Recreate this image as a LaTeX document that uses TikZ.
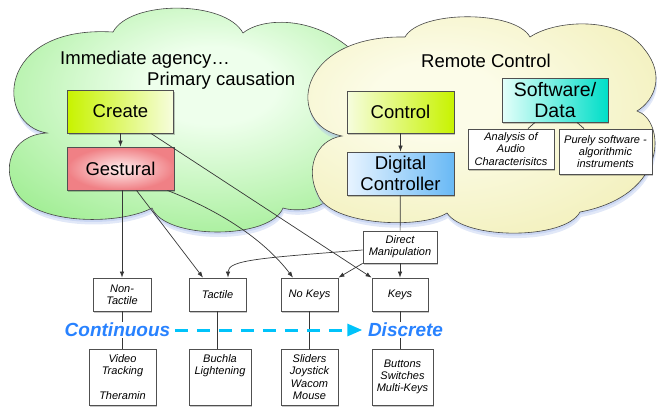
\documentclass[tikz,border=0pt]{standalone}
\usepackage{fontspec}
\setmainfont{Liberation Sans}
\usetikzlibrary{arrows.meta,shadows,calc}
\definecolor{GreenIn}{RGB}{238,255,236}
\definecolor{GreenOut}{RGB}{110,226,90}
\definecolor{YellowIn}{RGB}{252,252,232}
\definecolor{YellowOut}{RGB}{236,232,158}
\definecolor{CloudLine}{RGB}{70,70,70}
\definecolor{ShadowBlue}{RGB}{170,190,235}
\definecolor{LimeStrong}{RGB}{200,243,0}
\definecolor{LimePale}{RGB}{246,253,222}
\definecolor{GestIn}{RGB}{255,240,240}
\definecolor{GestOut}{RGB}{240,128,133}
\definecolor{BluePale}{RGB}{232,244,255}
\definecolor{BlueStrong}{RGB}{105,185,245}
\definecolor{CyanPale}{RGB}{228,255,250}
\definecolor{CyanStrong}{RGB}{0,222,200}
\definecolor{ConnLine}{RGB}{55,55,55}
\definecolor{BoxLine}{RGB}{80,80,80}
\definecolor{ContBlue}{RGB}{40,130,255}
\definecolor{DashCyan}{RGB}{0,195,250}
\pgfdeclareradialshading{greenshade}{\pgfpoint{2bp}{8bp}}{color(0bp)=(GreenIn); color(8bp)=(GreenIn); color(48bp)=(GreenOut); color(80bp)=(GreenOut)}
\pgfdeclareradialshading{yellowshade}{\pgfpoint{-6bp}{6bp}}{color(0bp)=(YellowIn); color(8bp)=(YellowIn); color(48bp)=(YellowOut); color(80bp)=(YellowOut)}
\def\greencloud{(47,133) .. controls (-5,125) and (-5,25) .. (113,32) .. controls (130,0) and (225,0) .. (243,33) .. controls (265,15) and (330,15) .. (370,70) .. controls (400,120) and (380,185) .. (330,195) .. controls (325,210) and (295,212) .. (283,208) .. controls (270,240) and (165,240) .. (152,208) .. controls (120,225) and (40,225) .. (18,195) .. controls (0,170) and (10,135) .. (47,133) -- cycle}
\def\yellowcloud{(342,136) .. controls (285,125) and (295,35) .. (405,37) .. controls (420,10) and (515,10) .. (530,37) .. controls (555,20) and (620,15) .. (645,50) .. controls (665,75) and (655,100) .. (637,111) .. controls (665,120) and (670,195) .. (580,212) .. controls (565,240) and (465,240) .. (447,213) .. controls (420,230) and (330,225) .. (318,195) .. controls (305,170) and (315,140) .. (342,136) -- cycle}
\tikzset{
  boxshadow/.style={drop shadow={shadow xshift=1pt, shadow yshift=-1.5pt, opacity=0.22, fill=black}},
  bigbox/.style={draw=BoxLine, line width=0.8pt, boxshadow, inner sep=0pt, align=center,
    font=\fontsize{18.5}{21}\selectfont},
  smallbox/.style={draw=BoxLine, line width=0.8pt, fill=white, boxshadow, inner sep=0pt, align=center,
    font=\fontsize{11}{12.2}\selectfont\itshape},
  conn/.style={draw=ConnLine, line width=0.7pt},
  arr/.style={conn, -{Latex[length=6pt,width=4.5pt]}},
  scaletext/.style={font=\fontsize{19}{21}\selectfont\bfseries\itshape, text=ContBlue, fill=white, inner sep=1.5pt},
  plaintext/.style={font=\fontsize{18.5}{21}\selectfont, inner sep=0pt}
}
\begin{document}
\begin{tikzpicture}[x=1pt,y=-1pt]
\useasboundingbox (0,0) rectangle (659,407);
% clouds
\fill[ShadowBlue, opacity=0.35, shift={(1,5)}] \greencloud;
\fill[ShadowBlue, opacity=0.4, shift={(0.5,2.5)}] \greencloud;
\shadedraw[shading=greenshade, draw=CloudLine, line width=0.6pt] \greencloud;
\fill[ShadowBlue, opacity=0.35, shift={(1,5)}] \yellowcloud;
\fill[ShadowBlue, opacity=0.4, shift={(0.5,2.5)}] \yellowcloud;
\shadedraw[shading=yellowshade, draw=CloudLine, line width=0.6pt] \yellowcloud;
% cloud titles
\node[plaintext, anchor=base west] (t1) at (60,64) {Immediate agency…};
\node[plaintext, anchor=base west] (t2) at (147,85) {Primary causation};
\node[plaintext, anchor=base west] (t3) at (421,67) {Remote Control};
% big boxes
\node[bigbox, minimum width=106pt, minimum height=43pt, left color=LimeStrong, right color=LimePale] (create) at (120.5,111.5) {Create};
\node[bigbox, minimum width=107pt, minimum height=43pt, inner color=GestIn, outer color=GestOut] (gest) at (120.5,168.5) {Gestural};
\node[bigbox, minimum width=107pt, minimum height=42pt, left color=LimePale, right color=LimeStrong] (control) at (400.5,112) {Control};
\node[bigbox, minimum width=107pt, minimum height=43pt, left color=BluePale, right color=BlueStrong] (digital) at (400.5,173.5) {Digital\\Controller};
\node[bigbox, minimum width=106pt, minimum height=44pt, left color=CyanPale, right color=CyanStrong, font=\fontsize{19.5}{21}\selectfont] (soft) at (555,100) {Software/\\Data};
% small boxes
\node[smallbox, minimum width=86pt, minimum height=40pt] (analysis) at (511,149) {Analysis of\\Audio\\Characterisitcs};
\node[smallbox, minimum width=93pt, minimum height=45pt] (purely) at (605.5,151.5) {Purely software -\\algorithmic\\instruments};
\node[smallbox, minimum width=74pt, minimum height=32pt] (dm) at (400,247) {Direct\\Manipulation};
\node[smallbox, minimum width=58pt, minimum height=33pt] (nt) at (122,294.5) {Non-\\Tactile};
\node[smallbox, minimum width=57pt, minimum height=33pt] (tactile) at (217.5,294.5) {Tactile};
\node[smallbox, minimum width=57pt, minimum height=33pt] (nokeys) at (309.5,294.5) {No Keys};
\node[smallbox, minimum width=56pt, minimum height=33pt] (keys) at (400,294.5) {Keys};
\node[smallbox, minimum width=67pt, minimum height=56pt] (video) at (122.5,377) {Video\\Tracking\\\mbox{}\\Theramin};
\node[smallbox, minimum width=62pt, minimum height=56pt] (buchla) at (220,377) {Buchla\\Lightening\\\mbox{}\\\mbox{}};
\node[smallbox, minimum width=57pt, minimum height=56pt] (sliders) at (309.5,377) {Sliders\\Joystick\\Wacom\\Mouse};
\node[smallbox, minimum width=61pt, minimum height=56pt] (buttons) at (402.5,377) {Buttons\\Switches\\Multi-Keys};
% connectors
\draw[arr] (create) -- (gest);
\draw[arr] (control) -- (digital);
\draw[arr] ([xshift=-23pt]create.south east) -- (keys.north west);
\draw[arr] (gest.south -| nt.north) -- (nt.north);
\draw[arr] ([xshift=16pt]gest.south) -- ([xshift=-14.5pt]tactile.north);
\draw[arr] ([xshift=-7pt]gest.south east) .. controls (230,215) and (268,245) .. ([xshift=-16.5pt]nokeys.north);
\draw[conn] (digital) -- (dm);
\draw[arr] (dm) -- (keys);
\draw[arr] (dm.south west) -- (nokeys.north east);
\draw[arr] ([yshift=-3pt]dm.west) .. controls (260,258) and (228,260) .. ([xshift=10.5pt]tactile.north);
\draw[conn] ([xshift=-20pt]soft.south) -- ([xshift=17pt]analysis.north);
\draw[conn] ([xshift=22pt]soft.south) -- ([xshift=-21.5pt]purely.north);
\draw[conn] (nt.south) -- (nt.south |- video.north);
\draw[conn] (tactile.south) -- (tactile.south |- buchla.north);
\draw[conn] (nokeys.south) -- (nokeys.south |- sliders.north);
\draw[conn] (keys.south) -- (keys.south |- buttons.north);
% scale
\node[scaletext] (cont) at (117.5,330) {Continuous};
\node[scaletext] (disc) at (405.5,330) {Discrete};
\draw[draw=DashCyan, line width=3pt, dash pattern=on 13pt off 9pt, shorten <=3pt, shorten >=4pt,
  -{Triangle[length=15pt,width=12pt,fill=DashCyan]}] (cont) -- (disc);
\end{tikzpicture}
\end{document}
